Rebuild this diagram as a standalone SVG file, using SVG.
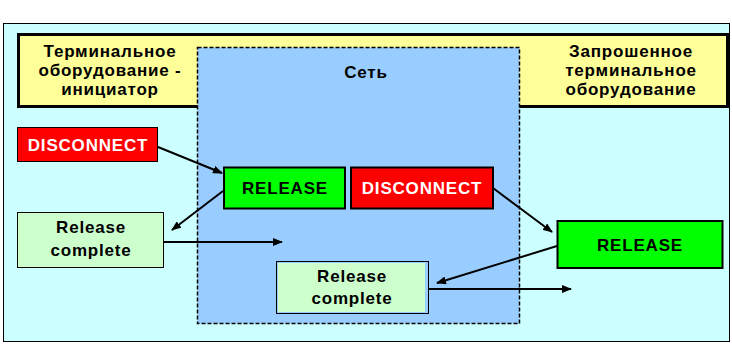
<svg xmlns="http://www.w3.org/2000/svg" width="732" height="345" viewBox="0 0 732 345">
<style>
text{font-family:"Liberation Sans",Arial,sans-serif;font-weight:bold;font-size:17px;letter-spacing:0.8px;text-anchor:middle}
.w{fill:#fff}
.k{fill:#000}
.con line{stroke:#000;stroke-width:2;marker-end:url(#ah)}
</style>
<defs>
<marker id="ah" viewBox="0 0 10 8" refX="9" refY="4" markerWidth="10" markerHeight="8" markerUnits="userSpaceOnUse" orient="auto">
<path d="M0,0 L10,4 L0,8 Z" fill="#000"/>
</marker>
</defs>
<rect x="0" y="0" width="732" height="345" fill="#fff"/>
<g id="background">
<rect x="3.5" y="23.5" width="726" height="318" fill="#CCFFFF" stroke="#000" stroke-width="1"/>
</g>
<g id="header">
<rect x="18.5" y="34.5" width="709" height="72" fill="#FFFF99" stroke="#000" stroke-width="3"/>
<text x="110" y="57">Терминальное</text>
<text x="110" y="76">оборудование -</text>
<text x="110" y="95">инициатор</text>
<text x="631" y="57">Запрошенное</text>
<text x="631" y="76">терминальное</text>
<text x="631" y="95">оборудование</text>
</g>
<g id="network">
<rect x="197.5" y="47.5" width="322" height="276" fill="#99CCFF" stroke="#000" stroke-width="1.5" stroke-dasharray="4,2"/>
<text x="366" y="78">Сеть</text>
</g>
<g id="disconnect1">
<rect x="17.5" y="127.5" width="140" height="34" fill="#FF0000" stroke="#000" stroke-width="1"/>
<text class="w" x="88" y="151">DISCONNECT</text>
</g>
<g id="release1">
<rect x="224" y="167.5" width="121" height="41" fill="#00FF00" stroke="#000" stroke-width="2"/>
<text x="285" y="194">RELEASE</text>
</g>
<g id="disconnect2">
<rect x="351" y="167.5" width="142" height="41" fill="#FF0000" stroke="#000" stroke-width="2"/>
<text class="w" x="422" y="194">DISCONNECT</text>
</g>
<g id="release2">
<rect x="557.5" y="221" width="165" height="47" fill="#00FF00" stroke="#000" stroke-width="2"/>
<text x="640" y="251">RELEASE</text>
</g>
<g id="relcomplete1">
<rect x="17.5" y="212.5" width="146" height="55" fill="#CCFFCC" stroke="#000" stroke-width="1"/>
<text x="91" y="233">Release</text>
<text x="91" y="256">complete</text>
</g>
<g id="relcomplete2">
<rect x="276.5" y="261.5" width="152" height="52" fill="#99CCFF" stroke="#000" stroke-width="1"/>
<rect x="278" y="263" width="147" height="49" fill="#CCFFCC"/>
<text x="352" y="282">Release</text>
<text x="352" y="304">complete</text>
</g>
<g id="connectors" class="con">
<line x1="158" y1="147" x2="222" y2="173"/>
<line x1="223" y1="191" x2="172" y2="230"/>
<line x1="164" y1="242" x2="282" y2="242"/>
<line x1="493" y1="188" x2="552" y2="232"/>
<line x1="557" y1="246" x2="437" y2="283"/>
<line x1="429" y1="289" x2="571" y2="289"/>
</g>
</svg>
